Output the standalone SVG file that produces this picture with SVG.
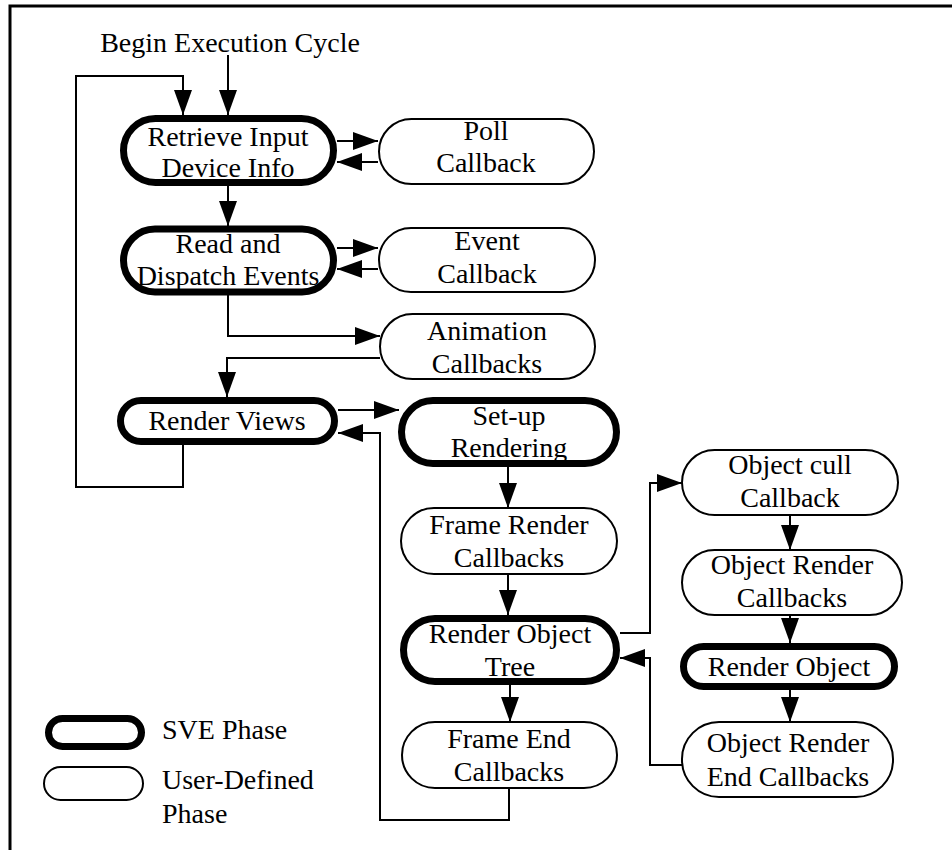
<svg xmlns="http://www.w3.org/2000/svg" width="952" height="850" viewBox="0 0 952 850">
<style>
text{font-family:"Liberation Serif","Times New Roman",serif;font-size:28px;fill:#000;text-anchor:middle}
.sve{fill:#fff;stroke:#000;stroke-width:7}
.usr{fill:#fff;stroke:#000;stroke-width:2}
.c{fill:none;stroke:#000;stroke-width:2;marker-end:url(#ah)}
.frame{fill:none;stroke:#000;stroke-width:3}
.lg{text-anchor:start}
</style>
<defs>
<marker id="ah" markerUnits="userSpaceOnUse" viewBox="0 0 25 18" refX="25" refY="9" markerWidth="25" markerHeight="18" orient="auto">
<path d="M0,0 L25,9 L0,18 z" fill="#000"/>
</marker>
</defs>
<rect width="952" height="850" fill="#fff"/>
<path class="frame" d="M10,850 V6 H952"/>
<text x="230" y="52">Begin Execution Cycle</text>

<g id="connectors">
<path class="c" d="M228,55 V115"/>
<path class="c" d="M183,445 V487 H76 V76 H183 V115"/>
<path class="c" d="M337,141 H378"/>
<path class="c" d="M378,162 H337"/>
<path class="c" d="M228,186 V226"/>
<path class="c" d="M337,248 H378"/>
<path class="c" d="M378,269 H337"/>
<path class="c" d="M228,295 V336 H380"/>
<path class="c" d="M380,358 H227 V397"/>
<path class="c" d="M338,410 H399"/>
<path class="c" d="M509,788 V820 H380 V433 H338"/>
<path class="c" d="M508,467 V508"/>
<path class="c" d="M508,574 V615"/>
<path class="c" d="M510,685 V722"/>
<path class="c" d="M620,633 H650 V483 H682"/>
<path class="c" d="M790,515 V550"/>
<path class="c" d="M790,615 V643"/>
<path class="c" d="M790,690 V722"/>
<path class="c" d="M682,765 H650 V658 H620"/>
</g>

<g id="retrieve"><rect class="sve" x="123.5" y="118.5" width="210" height="64" rx="32"/><text x="228" y="146">Retrieve Input</text><text x="228" y="177">Device Info</text></g>
<g id="poll"><rect class="usr" x="379" y="119" width="215" height="65" rx="32.5"/><text x="486" y="140">Poll</text><text x="486" y="172">Callback</text></g>
<g id="read"><rect class="sve" x="123.5" y="229" width="210" height="63" rx="31.5"/><text x="228" y="253">Read and</text><text x="228" y="285">Dispatch Events</text></g>
<g id="event"><rect class="usr" x="379" y="228" width="216" height="64" rx="32"/><text x="487" y="250">Event</text><text x="487" y="283">Callback</text></g>
<g id="animation"><rect class="usr" x="380" y="314" width="215" height="65" rx="32.5"/><text x="487" y="340">Animation</text><text x="487" y="373">Callbacks</text></g>
<g id="renderviews"><rect class="sve" x="120.5" y="400.5" width="214" height="41" rx="20.5"/><text x="227" y="430">Render Views</text></g>
<g id="setup"><rect class="sve" x="401.5" y="400.5" width="215" height="63" rx="31.5"/><text x="509" y="425">Set-up</text><text x="509" y="457">Rendering</text></g>
<g id="framerender"><rect class="usr" x="401" y="508" width="216" height="66" rx="33"/><text x="509" y="534">Frame Render</text><text x="509" y="567">Callbacks</text></g>
<g id="rendertree"><rect class="sve" x="403.5" y="618.5" width="213" height="63" rx="31.5"/><text x="510" y="643">Render Object</text><text x="510" y="676">Tree</text></g>
<g id="frameend"><rect class="usr" x="402" y="722" width="215" height="66" rx="33"/><text x="509" y="748">Frame End</text><text x="509" y="781">Callbacks</text></g>
<g id="objcull"><rect class="usr" x="682" y="450" width="216" height="65" rx="32.5"/><text x="790" y="474">Object cull</text><text x="790" y="507">Callback</text></g>
<g id="objrender"><rect class="usr" x="682" y="550" width="220" height="65" rx="32.5"/><text x="792" y="574">Object Render</text><text x="792" y="607">Callbacks</text></g>
<g id="renderobject"><rect class="sve" x="683.5" y="646.5" width="211" height="40" rx="20"/><text x="789" y="676">Render Object</text></g>
<g id="objrenderend"><rect class="usr" x="682" y="722" width="211" height="75" rx="37"/><text x="788" y="752">Object Render</text><text x="788" y="786">End Callbacks</text></g>

<g id="legend">
<rect class="sve" x="48.5" y="718.5" width="93" height="28" rx="14"/>
<rect class="usr" x="44" y="767" width="99" height="33" rx="16.5"/>
<text class="lg" x="162" y="739">SVE Phase</text>
<text class="lg" x="162" y="789">User-Defined</text>
<text class="lg" x="162" y="823">Phase</text>
</g>
</svg>
